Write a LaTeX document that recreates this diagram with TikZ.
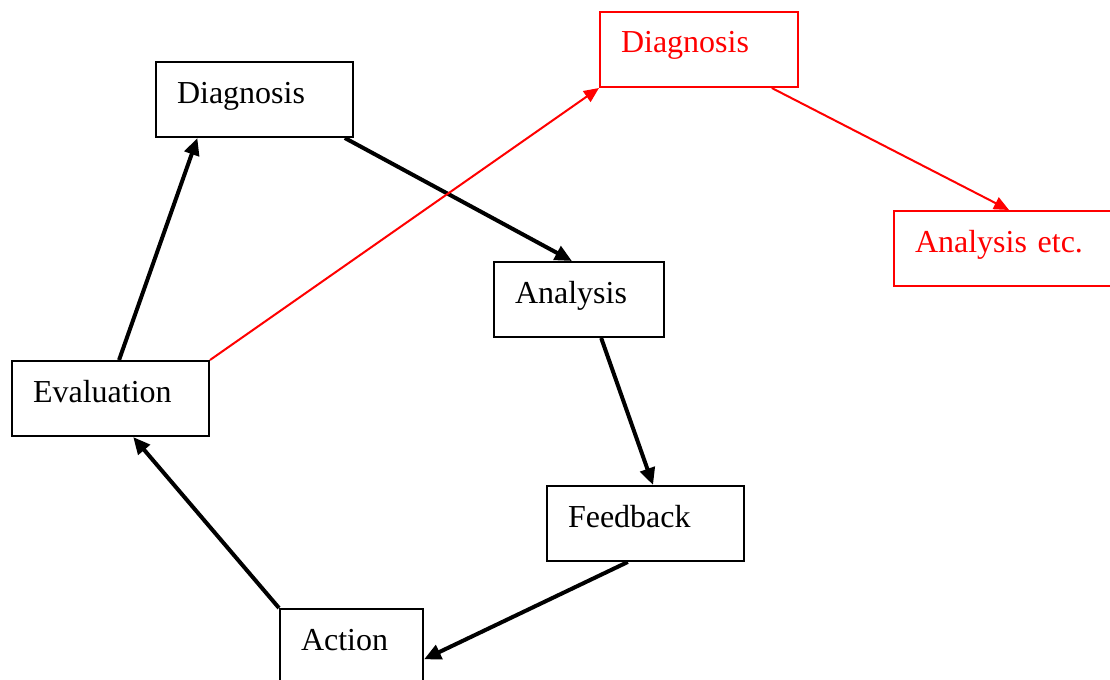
\documentclass[tikz,border=0pt]{standalone}
\usepackage{fontspec}
\setmainfont{Liberation Serif}
\usepackage{tikz}
\usetikzlibrary{
    calc,
    arrows.meta
}
\tikzset{
    stage/.style={draw, line width=1pt, anchor=north west, align=left,
        inner xsep=10.5pt, inner ysep=0pt, text height=20.5pt, text depth=17pt,
        font=\fontsize{16}{19}\selectfont},
    next/.style={red, draw=red},
    cycle/.style={line width=2pt, -{Triangle[length=8.5pt,width=7.5pt]}},
    jump/.style={red, line width=1pt, -{Triangle[length=7.5pt,width=6.5pt]}}
}

\begin{document}
\begin{tikzpicture}[x=0.5pt,y=-0.5pt]
      \clip (0,0) rectangle (1110,680);
      % the cycle
      \node[stage, text width=77.5pt] (diag) at (155,61) {Diagnosis};
      \node[stage, text width=64pt]   (anal) at (493,261) {Analysis};
      \node[stage, text width=77.5pt] (feed) at (546,485) {Feedback};
      \node[stage, text width=50.5pt] (act)  at (279,608) {Action};
      \node[stage, text width=77.5pt] (eval) at (11,360) {Evaluation};
      % next round
      \node[stage, next, text width=78pt] (diagB) at (599,11) {Diagnosis};
      \node[stage, next, text width=94pt] (analB) at (893,210) {Analysis etc.};

      \draw[cycle] ($(diag.south west)!0.954!(diag.south east)$) -- ($(anal.north west)!0.459!(anal.north east)$);
      \draw[cycle] ($(anal.south west)!0.629!(anal.south east)$) -- ($(feed.north west)!0.538!(feed.north east)$);
      \draw[cycle] ($(feed.south west)!0.411!(feed.south east)$) -- ($(act.north east)!0.667!(act.south east)$);
      \draw[cycle] (act.north west) -- ($(eval.south west)!0.614!(eval.south east)$);
      \draw[cycle] ($(eval.north west)!0.543!(eval.north east)$) -- ($(diag.south west)!0.213!(diag.south east)$);

      \draw[jump] (eval.north east) -- (diagB.south west);
      \draw[jump] ($(diagB.south west)!0.864!(diagB.south east)$) -- (analB.north);
\end{tikzpicture}
\end{document}
